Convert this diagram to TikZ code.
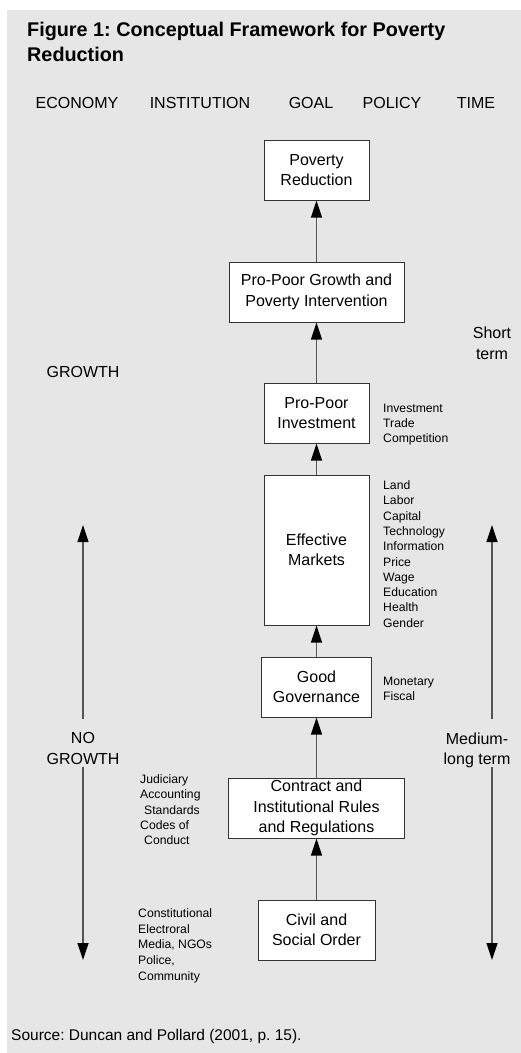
\documentclass[tikz,border=0pt]{standalone}
\usepackage{fontspec}
\setmainfont{Liberation Sans}
\usetikzlibrary{arrows.meta,positioning}
\frenchspacing

\definecolor{panel}{HTML}{E6E6E6}
\definecolor{edge}{HTML}{333333}
\definecolor{shaft}{HTML}{555555}

\begin{document}
\begin{tikzpicture}[
    x=1pt, y=-1pt,
    node distance=60pt,
    stage/.style={rectangle, draw=edge, line width=1pt, fill=white, minimum height=60pt, inner sep=0pt, align=center, font=\fontsize{16}{20.5}\selectfont},
    items/.style={anchor=north west, inner sep=0pt, align=left, font=\fontsize{12.2}{15.3}\selectfont},
    heading/.style={anchor=base, inner sep=0pt, font=\fontsize{16}{21}\selectfont},
    sidenote/.style={anchor=north, inner sep=0pt, align=center, font=\fontsize{16}{20.5}\selectfont},
    arrow/.style={draw=shaft, line width=1.2pt, -{Triangle[width=11pt,length=17pt,color=black]}}
]

% Panel
\useasboundingbox (0,0) rectangle (521,1053);
\fill[panel] (7,10) rectangle (521,1053);

% Title and column headings
\node[anchor=north west, inner sep=0pt, align=left, font=\fontsize{19.8}{25}\selectfont\bfseries] (title) at (27,21.5) {Figure 1: Conceptual Framework for Poverty\\Reduction};
\node[heading] (economy) at (77,108) {ECONOMY};
\node[heading] (institution) at (200,108) {INSTITUTION};
\node[heading] (goal) at (311,108) {GOAL};
\node[heading] (policy) at (392,108) {POLICY};
\node[heading] (time) at (476,108) {TIME};

% Stages, bottom to top
\node[stage, minimum width=117pt] (civil) at (316.5,930) {Civil and\\Social Order};
\node[stage, minimum width=176pt, above=61pt of civil] (contract) {Contract and\\Institutional Rules\\and Regulations};
\node[stage, minimum width=110pt, above=of contract] (governance) {Good\\Governance};
\node[stage, minimum width=105pt, minimum height=150pt, above=31pt of governance] (markets) {Effective\\Markets};
\node[stage, minimum width=105pt, above=31pt of markets] (investment) {Pro-Poor\\Investment};
\node[stage, minimum width=175pt, above=of investment] (intervention) {Pro-Poor Growth and\\Poverty Intervention};
\node[stage, minimum width=105pt, above=61pt of intervention] (reduction) {Poverty\\Reduction};

% Links
\draw[arrow] (civil) -- (contract);
\draw[arrow] (contract) -- (governance);
\draw[arrow] (governance) -- (markets);
\draw[arrow] (markets) -- (investment);
\draw[arrow] (investment) -- (intervention);
\draw[arrow] (intervention) -- (reduction);

% Policy and institution lists
\node[items] (trade) at (383,403.5) {Investment\\Trade\\Competition};
\node[items] (factors) at (383,480.5) {Land\\Labor\\Capital\\Technology\\Information\\Price\\Wage\\Education\\Health\\Gender};
\node[items] (fiscal) at (383,676.5) {Monetary\\Fiscal};
\node[items] (rules) at (140,774.5) {Judiciary\\Accounting\\\hspace*{4pt}Standards\\Codes of\\\hspace*{4pt}Conduct};
\node[items, font=\fontsize{12.2}{15.7}\selectfont] (order) at (138,908.5) {Constitutional\\Electroral\\Media, NGOs\\Police,\\Community};

% Economy side
\node[heading] (growth) at (83,377) {GROWTH};
\node[sidenote] (nogrowth) at (83,732.5) {NO\\GROWTH};
\coordinate (gup) at (83,525);
\coordinate (gdown) at (83,960);
\draw[arrow] ([yshift=14pt]nogrowth.north) -- (gup);
\draw[arrow] ([yshift=-2pt]nogrowth.south) -- (gdown);

% Time side
\node[sidenote] (short) at (492,327) {Short\\term};
\node[sidenote] (medium) at (477,732.5) {Medium-\\long term};
\coordinate (tup) at (492,525);
\coordinate (tdown) at (492,960);
\draw[arrow] (medium.north -| tup) ++(0,14pt) -- (tup);
\draw[arrow] (medium.south -| tdown) ++(0,1.5pt) -- (tdown);

% Source
\node[anchor=base west, inner sep=0pt, font=\fontsize{15.5}{18}\selectfont] (source) at (11,1040.5) {Source: Duncan and Pollard (2001, p. 15).};

\end{tikzpicture}
\end{document}
